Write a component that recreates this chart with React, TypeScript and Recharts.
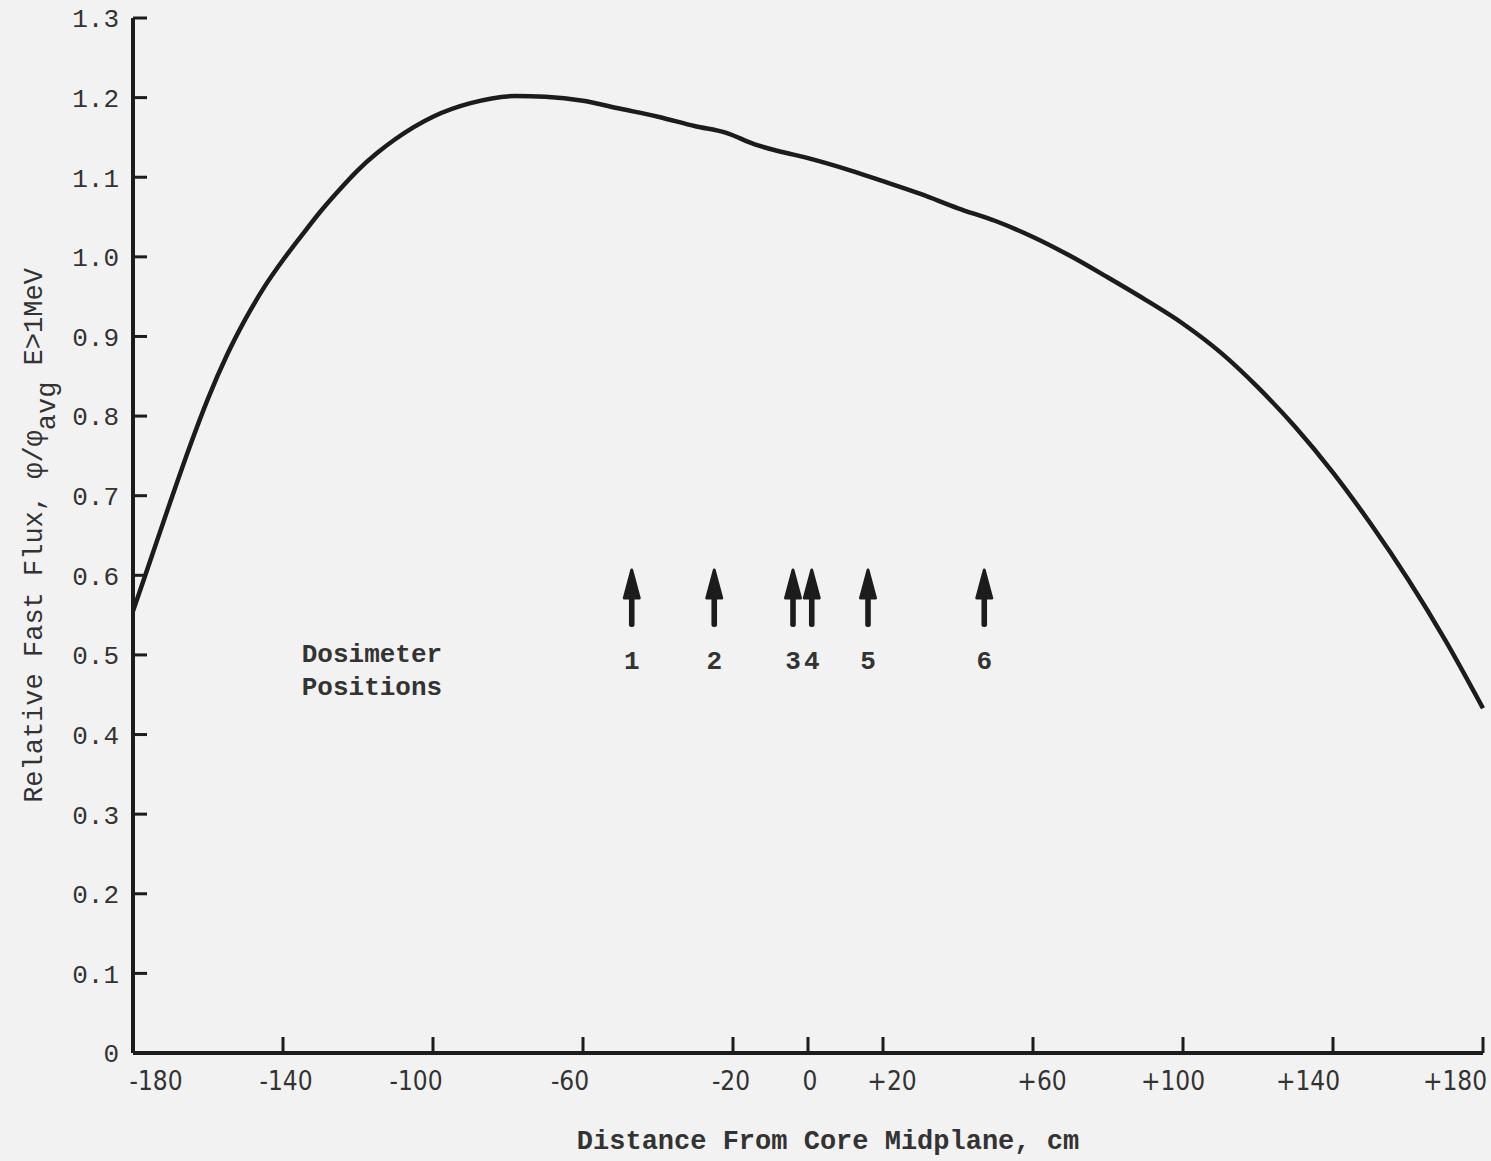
import { ComposedChart, Line, Scatter, XAxis, YAxis, Label } from "recharts";

// distance from core midplane (cm) vs relative fast flux
const distance = [
  -180, -175, -170, -165, -160, -155, -150, -145, -140, -135, -130, -125, -120,
  -115, -110, -100, -90, -78, -70, -60, -50, -40, -30, -22, -14, -8, 0, 11, 20,
  30, 40, 50, 60, 70, 80, 90, 100, 110, 120, 130, 140, 150, 160, 170, 180,
];
const flux = [
  0.555, 0.624, 0.693, 0.76, 0.822, 0.876, 0.922, 0.962, 0.996, 1.027, 1.057,
  1.084, 1.109, 1.13, 1.148, 1.176, 1.193, 1.202, 1.201, 1.196, 1.186, 1.176,
  1.164, 1.156, 1.141, 1.133, 1.124, 1.109, 1.095, 1.079, 1.061, 1.045, 1.025,
  1.001, 0.974, 0.946, 0.916, 0.88, 0.836, 0.786, 0.729, 0.665, 0.595, 0.518,
  0.433,
];

const xTicks = [-180, -140, -100, -60, -20, 0, 20, 60, 100, 140, 180];
const xTickLabels = ["-180", "-140", "-100", "-60", "-20", "0", "+20", "+60", "+100", "+140", "+180"];
const yTicks = [0, 0.1, 0.2, 0.3, 0.4, 0.5, 0.6, 0.7, 0.8, 0.9, 1.0, 1.1, 1.2, 1.3];
const yTickLabels = ["0", "0.1", "0.2", "0.3", "0.4", "0.5", "0.6", "0.7", "0.8", "0.9", "1.0", "1.1", "1.2", "1.3"];

// dosimeter arrows
const dosimeterX = [-47, -25, -4, 1, 16, 47];
const dosimeterNames = ["1", "2", "3", "4", "5", "6"];
const arrowBase = 0.535;

const noteAnchor = [{ x: -135, y: 0.491 }];

const curve = distance.map((x, i) => ({ x, flux: flux[i] }));
const dosimeters = dosimeterX.map((x, i) => ({
  x,
  y: arrowBase,
  name: dosimeterNames[i],
}));

const INK = "#1c1c1c";
const TEXT = "#333";
const MONO = '"Liberation Mono", "DejaVu Sans Mono", monospace';
const NARROW =
  '"Liberation Sans Narrow", "DejaVu Sans Condensed", "Roboto Condensed", "Liberation Sans", sans-serif';

// the printed scale labels sit a little off their ticks
const X_LABEL_SHIFT = [23, 3, -17, -13, -2, 2, 9, 9, -10, -25, -28];

const YTick = ({ x, y, payload }: any) => (
  <g>
    <line x1={x} x2={x + 14} y1={y} y2={y} stroke={INK} strokeWidth={3} />
    <text
      x={x - 14}
      y={y}
      dy="0.36em"
      textAnchor="end"
      fontFamily={MONO}
      fontSize={26}
      fill={TEXT}
    >
      {yTickLabels[yTicks.indexOf(payload.value)]}
    </text>
  </g>
);

const XTick = ({ x, y, payload }: any) => {
  const i = xTicks.indexOf(payload.value);
  return (
    <g>
      <line x1={x} x2={x} y1={y} y2={y - 16} stroke={INK} strokeWidth={3} />
      <text
        x={x + X_LABEL_SHIFT[i]}
        y={y + 28}
        dy="0.36em"
        textAnchor="middle"
        fontFamily={NARROW}
        fontStretch="condensed"
        fontSize={26}
        fill={TEXT}
      >
        {xTickLabels[i]}
      </text>
    </g>
  );
};

const Arrow = ({ cx, cy, payload }: any) => (
  <g>
    <rect x={cx - 2.8} y={cy - 32} width={5.6} height={32} rx={2.5} fill={INK} />
    <path
      d={`M${cx} ${cy - 57} L${cx + 7.5} ${cy - 29} L${cx - 7.5} ${cy - 29} Z`}
      fill={INK}
      stroke={INK}
      strokeWidth={3}
      strokeLinejoin="round"
    />
    <text
      x={cx}
      y={cy + 42}
      textAnchor="middle"
      fontFamily={MONO}
      fontWeight="bold"
      fontSize={26}
      fill={TEXT}
    >
      {payload.name}
    </text>
  </g>
);

const Note = ({ cx, cy }: any) => (
  <text fontFamily={MONO} fontWeight="bold" fontSize={26} fill={TEXT}>
    <tspan x={cx} y={cy}>
      Dosimeter
    </tspan>
    <tspan x={cx} y={cy + 33}>
      Positions
    </tspan>
  </text>
);

const YTitle = ({ viewBox }: any) => {
  const cy = viewBox.y + viewBox.height / 2;
  return (
    <text
      transform={`translate(42, ${cy}) rotate(-90)`}
      textAnchor="middle"
      fontFamily={MONO}
      fontSize={27}
      fill={TEXT}
    >
      Relative Fast Flux, φ/φ
      <tspan dy={13}>avg</tspan>
      <tspan dy={-13}> E&gt;1MeV</tspan>
    </text>
  );
};

const XTitle = ({ viewBox }: any) => (
  <text
    x={viewBox.x + viewBox.width / 2 + 20}
    y={viewBox.y + 96}
    textAnchor="middle"
    fontFamily={MONO}
    fontWeight="bold"
    fontSize={27}
    fill={TEXT}
  >
    Distance From Core Midplane, cm
  </text>
);

export default function App() {
  return (
    <div
      style={{
        position: "absolute",
        left: 0,
        top: 0,
        width: 1491,
        height: 1161,
        background: "#f2f2f2",
      }}
    >
      <ComposedChart
        width={1491}
        height={1161}
        margin={{ top: 18, right: 8, left: 0, bottom: 0 }}
      >
        <XAxis
          dataKey="x"
          type="number"
          domain={[-180, 180]}
          ticks={xTicks}
          interval={0}
          height={108}
          tickSize={0}
          tickMargin={0}
          tick={<XTick />}
          axisLine={{ stroke: INK, strokeWidth: 4 }}
        >
          <Label content={<XTitle />} />
        </XAxis>
        <YAxis
          type="number"
          domain={[0, 1.3]}
          ticks={yTicks}
          interval={0}
          width={133}
          tickSize={0}
          tickMargin={0}
          tick={<YTick />}
          axisLine={{ stroke: INK, strokeWidth: 4 }}
        >
          <Label content={<YTitle />} />
        </YAxis>
        <Line
          data={curve}
          dataKey="flux"
          type="monotone"
          stroke={INK}
          strokeWidth={4.5}
          dot={false}
          activeDot={false}
          isAnimationActive={false}
        />
        <Scatter
          data={dosimeters}
          dataKey="y"
          shape={<Arrow />}
          isAnimationActive={false}
        />
        <Scatter
          data={noteAnchor}
          dataKey="y"
          shape={<Note />}
          isAnimationActive={false}
        />
      </ComposedChart>
    </div>
  );
}
